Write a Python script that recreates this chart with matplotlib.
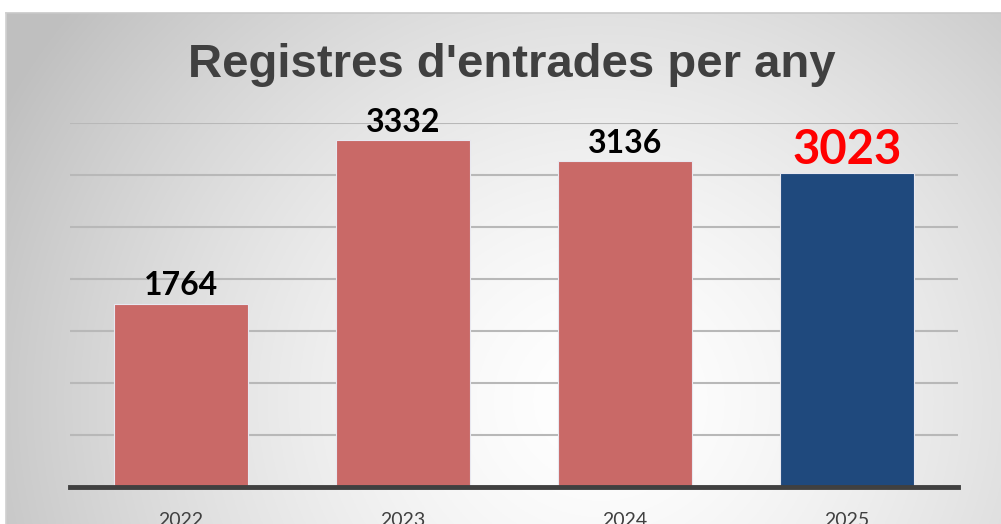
import numpy as np
import matplotlib
matplotlib.use("Agg")
import matplotlib.pyplot as plt

years = ["2022", "2023", "2024", "2025"]
values = [1764, 3332, 3136, 3023]
bar_colors = ["#c96967", "#c96967", "#c96967", "#1f497d"]
label_colors = ["black", "black", "black", "#ff0000"]
label_sizes = [23, 23, 23, 34]
title = "Registres d'entrades per any"

W, H = 1001, 524
fig = plt.figure(figsize=(W / 100, H / 100), dpi=100)
fig.patch.set_facecolor("white")

# radial gradient background
bg = fig.add_axes([6 / W, 0, 1 - 6 / W, 1 - 13 / H], zorder=0)
ny, nx = 300, 600
yy, xx = np.mgrid[0:ny, 0:nx]
px = 6 + xx / nx * (W - 6)
py = 13 + yy / ny * (H - 13)
cx, cy, rx, ry = 600, 400, 640, 600
d = np.sqrt(((px - cx) / rx) ** 2 + ((py - cy) / ry) ** 2)
v = 1.0 - 0.23 * np.clip(d, 0, 1.05) ** 1.5
img = np.dstack([v, v, v])
bg.imshow(img, aspect="auto", extent=[0, 1, 0, 1], origin="upper")
bg.set_axis_off()
fig.add_artist(plt.Line2D([6 / W, 1], [1 - 13 / H, 1 - 13 / H], color="#c8c8c8", lw=1.2, transform=fig.transFigure))
fig.add_artist(plt.Line2D([6 / W, 6 / W], [0, 1 - 13 / H], color="#d0d0d0", lw=1.2, transform=fig.transFigure))

ax = fig.add_axes([70 / W, (H - 487) / H, (958 - 70) / W, (487 - 123) / H], zorder=1)
ax.patch.set_alpha(0)
x = np.arange(len(years))
ax.bar(x, values, width=0.6, color=bar_colors, edgecolor="#e8e8f0", linewidth=0.8, zorder=3)
ax.set_xlim(-0.5, 3.5)
ax.set_ylim(0, 3500)
for gy in range(500, 3501, 500):
    ax.axhline(gy, color="#b8b8b8", lw=1.5, zorder=1)
for s in ["top", "right", "left"]:
    ax.spines[s].set_visible(False)
ax.spines["bottom"].set_color("#404040")
ax.spines["bottom"].set_linewidth(3.5)
ax.spines["bottom"].set_zorder(4)
ax.set_yticks([])
ax.set_xticks(x)
ax.set_xticklabels(years, fontfamily="Lato", fontsize=14, color="#404040")
ax.tick_params(axis="x", length=0, pad=18)

for xi, val, c, s in zip(x, values, label_colors, label_sizes):
    ax.annotate(str(val), (xi, val), xytext=(0, 6), textcoords="offset points",
                ha="center", va="baseline", fontfamily="Lato", fontweight="bold",
                fontsize=s, color=c, zorder=5)

fig.text(0.511, 1 - 77 / H, title, ha="center", va="baseline",
         fontfamily="Liberation Sans", fontweight="bold", fontsize=34, color="#404040")

fig.savefig("out.png", dpi=100)
